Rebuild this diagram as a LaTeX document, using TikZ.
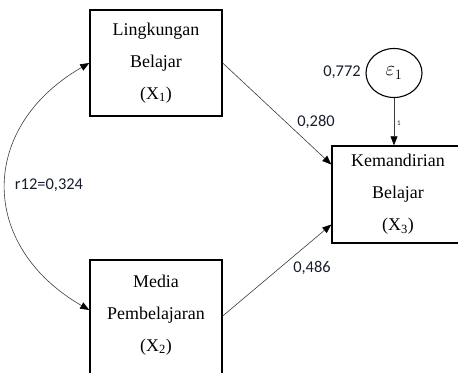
\documentclass[tikz,border=0pt]{standalone}
\usepackage{fontspec}
\setmainfont{Liberation Serif}
\newfontfamily\lblfont{Carlito}
\definecolor{pathgray}{RGB}{60,60,60}
\definecolor{lbltext}{RGB}{25,30,45}
\usetikzlibrary{arrows.meta,positioning,shapes.geometric,calc}

\begin{document}
\begin{tikzpicture}[x=1bp, y=-1bp,
        varbox/.style={rectangle, draw=black, line width=1.4bp, minimum width=132bp,
                       inner sep=0pt, align=center, font=\fontsize{18}{32}\selectfont},
        errnode/.style={ellipse, draw=black, line width=1.1bp, minimum width=56bp,
                        minimum height=49bp, inner sep=0pt, font=\fontsize{20}{22}\selectfont},
        lbl/.style={font=\lblfont\fontsize{16.5}{18}\selectfont, text=lbltext, inner sep=0pt},
        arr/.style={-{Triangle[length=9bp,width=7bp,color=black]}, line width=0.6bp, pathgray},
        corr/.style={{Triangle[length=9bp,width=7bp,color=black]}-{Triangle[length=9bp,width=7bp,color=black]},
                     line width=0.6bp, pathgray}
      ]
        \useasboundingbox (0,0) rectangle (458,372);

        \node[varbox, minimum height=106bp] (X1) at (156,63) {Lingkungan\\Belajar\\(X\textsubscript{1})};
        \node[varbox, minimum height=130bp] (X2) at (156,325) {Media\\Pembelajaran\\(X\textsubscript{2})\rule[-24bp]{0pt}{0pt}};
        \node[varbox, minimum height=97bp]  (X3) at (398,194.5) {Kemandirian\\Belajar\\(X\textsubscript{3})};
        \node[errnode] (E1) at (394,73) {$\varepsilon_1$};

        \node[lbl] (w13) at (316,122) {0,280};
        \node[lbl] (w23) at (312,268) {0,486};
        \node[lbl] (r12) at (49,185) {r12=0,324};
        \node[lbl] (ve1) at (342,72) {0,772};
        \node[lbl, font=\lblfont\fontsize{7}{8}\selectfont] (one) at (399,123) {1};

        \draw[arr] (X1.east) -- ([yshift=30bp]X3.west);
        \draw[arr] ([yshift=9bp]X2.east) -- ([yshift=-30bp]X3.west);
        \draw[arr] (E1.south) -- (E1.south |- X3.north);
        \draw[corr] (X1.west) .. controls +(-111,64) and +(-111,-64) .. ([yshift=15bp]X2.west);
      \end{tikzpicture}
\end{document}
